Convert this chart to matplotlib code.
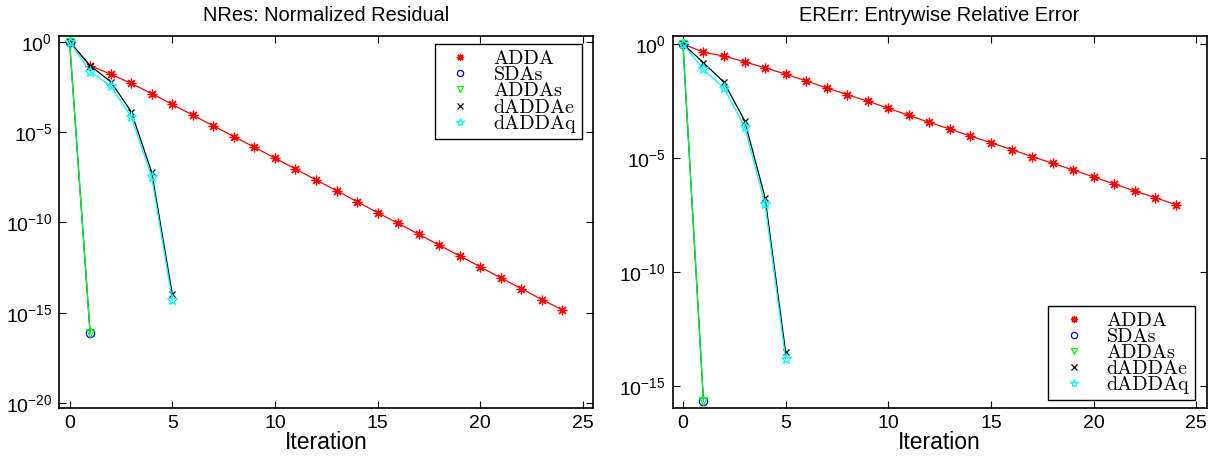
import matplotlib
matplotlib.use('Agg')
import matplotlib.pyplot as plt
import numpy as np

plt.rcParams['font.family'] = ['Liberation Sans', 'DejaVu Sans']
plt.rcParams['mathtext.fontset'] = 'custom'
plt.rcParams['mathtext.rm'] = 'Liberation Sans'
plt.rcParams['mathtext.it'] = 'Liberation Sans:italic'
plt.rcParams['axes.unicode_minus'] = True

# 반복 횟수
it_adda = np.arange(0, 25)
it_sda = np.array([0, 1])
it_dadda = np.arange(0, 6)

# NRes (log10 값, 그림에서 읽음)
nres_adda = [0, -1.33, -1.79, -2.31, -2.87, -3.47, -4.06, -4.66, -5.25, -5.84,
             -6.44, -7.04, -7.65, -8.24, -8.85, -9.46, -10.05, -10.65, -11.26,
             -11.85, -12.46, -13.07, -13.66, -14.27, -14.84]
nres_sdas = [0, -16.14]
nres_addas = [0, -16.14]
nres_daddae = [0, -1.33, -2.21, -3.87, -7.23, -13.96]
nres_daddaq = [0, -1.66, -2.45, -4.15, -7.50, -14.30]

# ERErr (log10 값)
ererr_adda = [0, -0.36, -0.53, -0.78, -1.05, -1.32, -1.62, -1.93, -2.22, -2.51,
              -2.82, -3.13, -3.44, -3.73, -4.04, -4.33, -4.63, -4.94, -5.23,
              -5.53, -5.83, -6.14, -6.45, -6.74, -7.05]
ererr_sdas = [0, -15.66]
ererr_addas = [0, -15.66]
ererr_daddae = [0, -0.82, -1.68, -3.36, -6.74, -13.52]
ererr_daddaq = [0, -1.11, -1.94, -3.63, -7.03, -13.82]

labels = ['ADDA', 'SDAs', 'ADDAs', 'dADDAe', 'dADDAq']
colors = ['#ff0000', '#0000ff', '#00ff00', '#000000', '#00ffff']
markers = [(8, 2, 0), 'o', 'v', 'x', '*']
msizes = [7, 6, 6, 5, 8]

fig = plt.figure(figsize=(12.23, 4.59), dpi=100)
ax1 = fig.add_axes([0.0485, 0.1105, 0.4366, 0.8111])
ax2 = fig.add_axes([0.5500, 0.1105, 0.4366, 0.8111])


def draw(ax, series, title, ylim, yticks, legloc, bbox):
    xs = [it_adda, it_sda, it_sda, it_dadda, it_dadda]
    for x, y, c, m, ms, lab in zip(xs, series, colors, markers, msizes, labels):
        y = 10.0 ** np.array(y)
        ax.plot(x, y, color=c, lw=0.9)
        ax.plot(x, y, ls='none', marker=m, ms=ms, color=c, mfc='none',
                mec=c, mew=0.9, label=lab)
    ax.set_yscale('log')
    ax.set_xlim(-0.5, 25.5)
    ax.set_ylim(*ylim)
    ax.set_yticks(yticks)
    ax.minorticks_off()
    ax.set_xticks([0, 5, 10, 15, 20, 25])
    ax.tick_params(direction='in', top=True, right=True, length=5,
                   labelsize=14, pad=5, width=0.8)
    for s in ax.spines.values():
        s.set_linewidth(1.2)
    ax.set_title(title, fontsize=14.4, pad=11)
    ax.set_xlabel('Iteration', fontsize=16.5, labelpad=-1)
    ax.legend(loc=legloc, bbox_to_anchor=bbox,
              prop={'family': 'cmr10', 'size': 14.5},
              fancybox=False, edgecolor='black', framealpha=1,
              labelspacing=-0.1, handlelength=1.9, handletextpad=0.7,
              borderpad=0.3, borderaxespad=0, markerscale=0.75)


draw(ax1, [nres_adda, nres_sdas, nres_addas, nres_daddae, nres_daddaq],
     'NRes: Normalized Residual', (10 ** -20.28, 10 ** 0.315),
     [1e-20, 1e-15, 1e-10, 1e-5, 1e0], 'upper right', (0.979, 0.978))
draw(ax2, [ererr_adda, ererr_sdas, ererr_addas, ererr_daddae, ererr_daddaq],
     'ERErr: Entrywise Relative Error', (10 ** -15.98, 10 ** 0.35),
     [1e-15, 1e-10, 1e-5, 1e0], 'lower right', (0.979, 0.022))

fig.savefig('out.png', dpi=100)
